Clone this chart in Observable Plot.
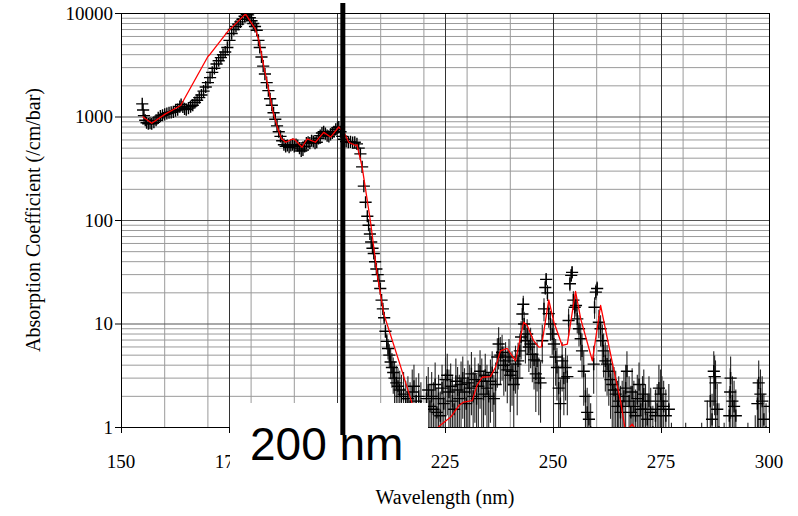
<!DOCTYPE html>
<html><head><meta charset="utf-8">
<script src="https://cdn.jsdelivr.net/npm/d3@7"></script>
<script src="https://cdn.jsdelivr.net/npm/@observablehq/plot@0.6"></script>
<style>body{margin:0;background:#fff}#chart{width:798px;height:516px}</style>
</head><body><div id="chart"></div>
<script>
// ---- tick labels / grid ----
const xTicks = [150, 175, 200, 225, 250, 275, 300];
const xTickHidden = [200]; // label covered by the annotation box in the original
const yTicks = [1, 10, 100, 1000, 10000];
const xMinor = [160, 170, 180, 190, 200, 210, 220, 230, 240, 250, 260, 270, 280, 290];
const yMinor = [2,3,4,5,6,7,8,9,20,30,40,50,60,70,80,90,200,300,400,500,600,700,800,900,2000,3000,4000,5000,6000,7000,8000,9000];
const xTitle = "Wavelength (nm)";
const yTitle = "Absorption Coefficient (/cm/bar)";
const annotationNm = 201.35;
const annotationText = "200 nm";

// ---- measured absorption (black + with error bars) ----
const measNm = [
154.8,155.0,155.2,155.5,155.8,156.2,156.6,157.0,157.5,158.0,158.5,159.0,159.5,160.0,160.5,161.0,161.5,162.0,162.5,163.0,163.5,163.8,164.2,164.6,165.0,165.5,166.0,166.5,167.0,167.5,168.0,168.5,169.0,169.5,170.0,170.5,171.0,171.5,172.0,172.5,173.0,173.5,174.0,174.5,175.0,175.5,176.0,176.5,177.0,177.5,178.0,178.5,179.0,179.3,179.7,180.1,180.5,180.9,181.3,181.7,182.0,182.4,182.8,183.2,183.6,184.0,184.4,184.8,185.2,185.6,186.0,186.4,186.8,187.2,187.6,188.0,188.4,188.8,189.2,189.6,190.0,190.4,190.8,191.2,191.6,192.0,192.4,192.8,193.2,193.6,194.0,194.4,194.8,195.2,195.6,196.0,196.4,196.8,197.2,197.6,198.0,198.4,198.8,199.2,199.6,200.0,200.3,200.7,201.1,201.5,202.0,202.5,203.0,203.5,204.0,204.5,204.9,205.3,205.7,206.1,206.5,206.9,207.2,207.5,207.8,208.1,208.4,208.7,209.0,209.3,209.6,209.9,210.2,210.5,210.8,211.1,211.4,211.7,212.0,212.3,212.6,212.9,213.2,213.6,214.0,214.4,214.8,215.3,215.8,216.3,216.8,217.3,217.7,218.2,218.8,219.3,
220.6,221.0,221.4,221.8,222.2,222.6,223.0,223.4,223.8,224.2,224.6,225.0,225.4,225.8,226.2,226.6,227.0,227.4,227.8,228.2,228.6,229.0,229.4,229.8,230.2,230.6,231.0,231.4,231.8,232.2,232.6,233.0,233.4,233.8,234.2,234.6,235.0,235.4,235.8,236.2,236.6,
237.0,237.3,237.7,238.1,238.5,238.9,239.3,239.7,240.0,240.4,240.8,241.2,241.6,241.8,242.2,242.5,242.8,243.0,243.2,243.5,243.9,244.3,244.7,245.1,245.5,245.9,246.2,246.6,247.0,247.4,247.8,248.1,248.3,248.6,248.9,249.3,249.7,250.1,250.5,250.8,251.2,251.6,252.0,252.4,252.8,253.2,253.5,253.8,254.1,254.3,254.6,254.9,255.2,255.5,255.9,256.3,256.6,257.0,257.4,257.8,258.2,258.6,259.3,259.5,259.8,260.1,260.5,260.9,261.3,261.6,262.0,262.4,262.8,263.2,263.6,264.0,264.4,264.8,265.1,265.5,265.9,266.3,266.7,267.0,267.5,267.9,268.2,268.6,269.0,269.4,269.8,270.2,270.6,270.9,271.3,271.7,272.1,272.5,273.0,273.6,274.0,274.4,274.8,275.1,275.5,276.0,276.7,
277.3,279.0,280.6,282.2,284.3,285.6,286.3,286.7,287.1,287.3,287.5,287.9,288.3,289.5,290.7,290.9,291.0,291.4,291.8,292.2,293.5,295.0,296.7,297.2,297.5,297.9,298.3,298.7,299.2,300.0];
const measVal = [
1340,1170,1030,930,880,860,870,860,890,930,980,1020,1040,1060,1080,1100,1110,1120,1150,1180,1260,1320,1250,1200,1180,1220,1260,1300,1380,1450,1540,1630,1780,1950,2150,2400,2700,2950,3250,3500,3750,4000,4250,4700,5500,6400,7000,7500,7900,8300,8800,9400,9800,9700,9100,8500,8000,7500,6900,5500,4700,3800,3100,2600,2150,1800,1500,1300,1100,950,820,720,650,590,540,520,530,510,530,540,520,540,530,500,470,480,520,560,570,560,590,580,560,570,620,660,700,720,690,660,650,680,700,720,760,790,800,720,650,610,580,570,575,565,570,550,500,440,330,215,150,110,90,74,62,54,48,40,34,30,26,22,17,14,11.5,8.5,6.8,5.8,5.0,4.3,3.8,3.4,3.0,2.7,2.5,2.3,2.0,2.1,1.7,1.9,1.6,2.2,2.5,1.8,2.0,1.6,
1.9,2.3,1.6,2.0,1.5,2.6,1.4,1.9,1.3,2.4,1.7,2.9,3.2,2.2,2.5,1.8,1.5,2.8,2.3,1.9,2.6,3.0,2.2,1.7,2.7,2.4,3.3,2.0,2.9,1.9,2.5,3.5,2.8,2.1,3.2,2.4,2.0,2.8,3.4,1.9,2.6,
4.8,6.4,5.0,5.3,4.0,4.4,3.6,4.8,3.2,3.5,2.6,4.1,3.0,4.4,5.5,7.5,12.5,15.5,10.0,6.9,8.0,6.0,6.4,5.1,4.5,3.3,4.4,3.0,2.7,6.9,14.0,22.5,27.0,20.0,12.6,10.0,8.0,6.4,4.8,3.8,2.4,1.7,4.4,3.0,3.8,3.1,10.8,24.5,29.5,31.5,17.0,14.5,15.1,11.2,9.0,7.2,5.5,3.5,2.0,1.4,1.2,0.9,4.1,14.5,20.3,22.0,10.4,9.0,6.9,5.5,4.4,4.1,3.5,2.9,2.6,2.3,2.1,1.6,1.8,1.4,1.6,2.0,2.4,3.5,1.8,1.4,2.2,1.6,1.3,1.9,2.6,1.5,1.8,2.1,1.5,1.2,1.8,1.4,0.9,1.3,1.5,2.4,2.1,1.8,1.6,1.3,1.5,
0.7,0.6,0.7,0.6,0.7,0.8,1.8,1.2,3.5,3.1,2.7,1.5,0.9,0.7,1.3,2.2,3.0,1.8,1.6,1.3,0.6,0.7,0.8,1.7,2.7,2.1,1.8,1.2,0.9,1.6];
const measErr = [
20,20,15,15,15,15,15,15,15,15,15,15,15,15,15,15,15,15,15,15,15,15,15,15,15,15,15,15,20,20,20,20,25,25,30,30,35,35,40,40,45,45,50,55,60,70,80,80,90,90,100,100,110,110,100,100,90,90,80,60,50,40,35,30,25,20,18,15,12,10,9,8,7,7,6,6,6,6,6,6,6,6,6,6,6,6,6,6,6,6,6,6,6,6,7,7,8,8,8,7,7,7,8,8,8,9,9,8,7,7,6,6,6,6,6,6,6,5,4,3,2,2,1.5,1.5,1.2,1.2,1.2,1,1,1,1,1,1,1,1,1.2,1.2,1.3,1.3,1.4,1.4,1.3,1.3,1.2,1.2,1.2,1.2,1.3,1.1,1.2,1.1,1.4,1.5,1.2,1.3,1.1,
1.2,1.5,1.0,1.4,1.2,1.6,1.0,1.3,0.9,1.6,1.2,1.8,1.9,1.4,1.6,1.3,1.1,1.8,1.5,1.3,1.7,1.8,1.5,1.2,1.7,1.6,2.0,1.4,1.8,1.3,1.6,2.0,1.8,1.4,1.9,1.6,1.4,1.7,2.0,1.3,1.6,
2.4,2.8,2.4,2.5,2.0,2.2,1.9,2.3,1.8,1.9,1.6,2.0,1.7,2.1,2.5,3.0,3.0,3.0,3.0,2.8,3.0,2.6,2.7,2.4,2.2,1.9,2.2,1.7,1.6,2.8,3.5,3.5,3.5,3.5,3.5,3.2,3.0,2.7,2.3,2.0,1.5,1.2,2.2,1.7,2.0,1.8,3.2,4,4,4,3.5,3.4,3.4,3.2,3.0,2.8,2.5,1.9,1.3,1.0,0.9,0.8,2.0,3.4,3.5,3.5,3.2,3.0,2.8,2.5,2.2,2.1,1.9,1.7,1.6,1.5,1.4,1.2,1.3,1.1,1.2,1.4,1.6,1.9,1.3,1.1,1.5,1.2,1.0,1.3,1.6,1.1,1.3,1.5,1.1,0.9,1.3,1.0,0.7,1.0,1.1,1.6,1.5,1.3,1.2,1.0,1.1,
0.4,0.4,0.4,0.3,0.4,1.0,1.3,0.9,1.9,1.8,1.7,1.1,0.8,0.4,1.0,1.5,1.8,1.3,1.2,1.0,0.3,0.4,0.5,1.2,1.7,1.5,1.3,0.9,0.8,1.2];

// ---- comparison spectrum (red line) ----
const modelNm = [155,157,160,163.7,170.0,170.6,174.8,176.8,178.7,181.0,181.8,183.0,184.0,185.0,186.0,187.0,188.0,189.1,189.9,191.8,193.0,194.9,196.8,198.4,200.3,201.5,202.6,204.2,204.5,205.7,207.6,209.2,210.7,214.2,217.1,218.5,219.5,221.5,223.8,226.2,228.1,229.2,231.2,232.3,233.5,235.4,236.6,237.7,239.3,241.2,243.1,243.9,245.4,246.6,247.2,248.9,250.1,252.0,253.2,255.1,256.3,259.0,260.9,262.4,264.0,265.5,266.7,268.2,269.4];
const modelVal = [1000,870,1060,1290,3845,4090,6860,8250,9900,7060,5480,3000,1900,1150,820,620,570,600,615,510,615,570,710,640,800,713,570,530,540,330,100,30,12.6,4.4,1.8,1.15,0.8,0.85,1.05,1.26,1.63,1.76,1.82,2.55,3.06,3.1,3.83,5.5,5.8,4.4,10.4,9.7,6.9,5.97,6.0,17.1,10.4,6.2,6.4,20.7,11.2,4.4,15.1,7.45,3.55,1.82,0.9,1.08,0.9];

const meas = measNm.map((nm, i) => ({nm, v: measVal[i], e: measErr[i]}));
const model = modelNm.map((nm, i) => ({nm, v: modelVal[i]}));

const chart = Plot.plot({
  width: 798, height: 516,
  marginLeft: 121, marginRight: 29, marginTop: 13, marginBottom: 89,
  x: {domain: [150, 300]},
  y: {type: "log", domain: [1, 10000]},
  style: {background: "white", fontFamily: "Liberation Serif"},
  marks: [
    Plot.ruleY(yMinor, {stroke: "#9a9a9a", strokeWidth: 1}),
    Plot.ruleX(xMinor, {stroke: "#9a9a9a", strokeWidth: 1}),
    Plot.ruleY(yTicks, {stroke: "#555", strokeWidth: 1.2}),
    Plot.ruleX(xTicks, {stroke: "#333", strokeWidth: 1}),
    Plot.ruleX(meas, {x: "nm", y1: d => Math.max(d.v - d.e, 0.05), y2: d => d.v + d.e, stroke: "#222", strokeWidth: 1.1, clip: true}),
    Plot.dot(meas, {x: "nm", y: "v", symbol: "plus", r: 4, stroke: "black", strokeWidth: 1.4, clip: true}),
    Plot.line(model, {x: "nm", y: "v", stroke: "#ff0000", strokeWidth: 1.3, clip: true}),
    Plot.frame({stroke: "black"}),
    Plot.axisX({ticks: xTicks, tickSize: 6, tickFormat: () => "", label: null}),
    Plot.axisY({ticks: yTicks, tickSize: 6, tickFormat: () => "", label: null})
  ]
});
document.getElementById("chart").appendChild(chart);

const sx = chart.scale("x"), sy = chart.scale("y");
const svg = d3.select(chart);
const serif = "'Liberation Serif','Times New Roman',serif";
const g = svg.append("g").attr("font-family", serif).attr("fill", "black");
// y tick labels
yTicks.forEach(t => {
  g.append("text").attr("x", 113).attr("y", sy.apply(t)).attr("text-anchor", "end")
    .attr("dominant-baseline", "central").attr("font-size", 19).text(String(t));
});
// x tick labels (the 200 label is hidden under the annotation box)
xTicks.filter(t => !xTickHidden.includes(t)).forEach(t => {
  g.append("text").attr("x", sx.apply(t)).attr("y", 468).attr("text-anchor", "middle")
    .attr("font-size", 19).text(String(t));
});
// axis titles
g.append("text").attr("x", 445).attr("y", 504).attr("text-anchor", "middle").attr("font-size", 20).text(xTitle);
g.append("text").attr("transform", "translate(33,220) rotate(-90)").attr("text-anchor", "middle")
  .attr("dominant-baseline", "central").attr("font-size", 20).text(yTitle);
// annotation box + label + thick marker line
svg.append("rect").attr("x", 230).attr("y", 403).attr("width", 198).attr("height", 72).attr("fill", "white");
svg.append("text").attr("x", 250).attr("y", 460).attr("text-anchor", "start")
  .attr("font-family", "'Liberation Sans',Arial,sans-serif")
  .attr("font-size", 46).attr("fill", "black").text(annotationText);
const ax = sx.apply(annotationNm);
svg.append("line").attr("x1", ax).attr("x2", ax).attr("y1", 3).attr("y2", 435)
  .attr("stroke", "black").attr("stroke-width", 5);
</script></body></html>
